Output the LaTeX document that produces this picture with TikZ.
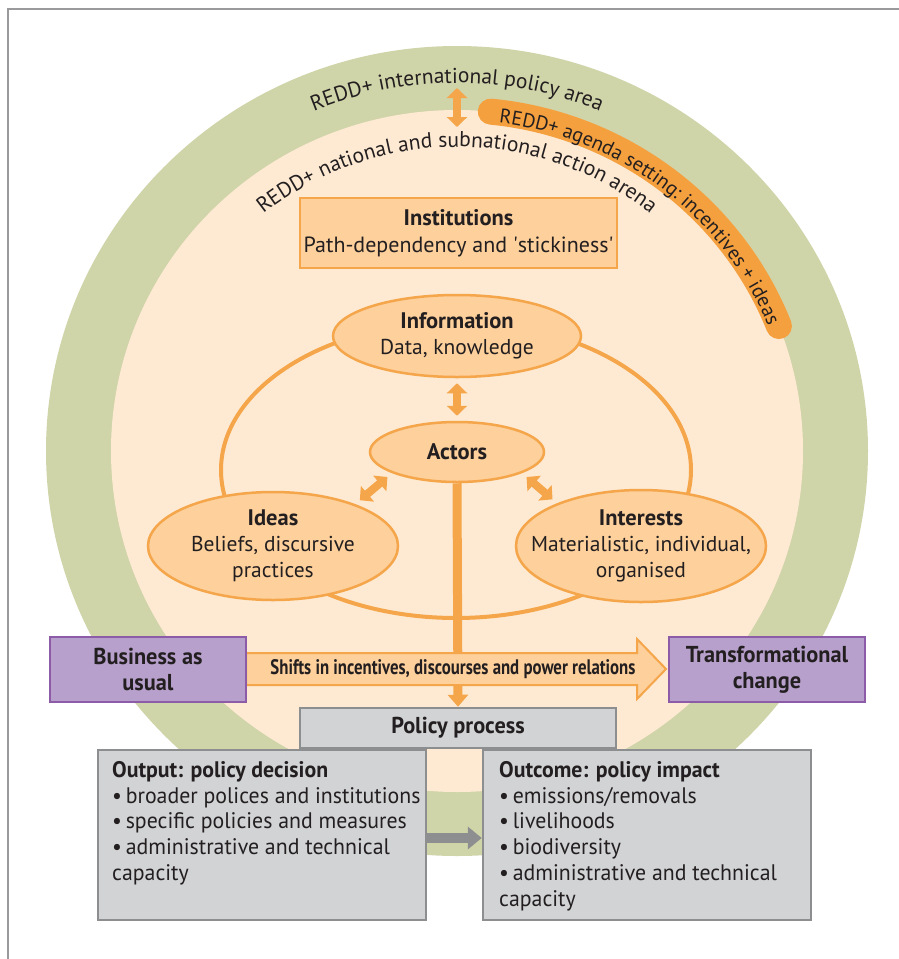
\documentclass[tikz,border=0pt]{standalone}
\usepackage{fontspec}
\setmainfont{PT Sans}
\newfontfamily\condf[FakeStretch=0.97]{PT Sans}
\newfontfamily\narrowf[FakeStretch=0.8]{PT Sans}
\usetikzlibrary{arrows.meta,decorations.text,shapes.geometric}
\definecolor{ring}{HTML}{D0D4A9}
\definecolor{arena}{HTML}{FEEAD3}
\definecolor{ofill}{HTML}{FDD09C}
\definecolor{oline}{HTML}{F5A54A}
\definecolor{oband}{HTML}{F5A03E}
\definecolor{txt}{HTML}{231F20}
\definecolor{pfill}{HTML}{B7A0CC}
\definecolor{pline}{HTML}{8C5CA8}
\definecolor{gfill}{HTML}{D2D3D5}
\definecolor{gline}{HTML}{8D8E90}
\definecolor{framec}{HTML}{9A9A9C}
\newcommand{\ttl}[1]{{\fontsize{22.5}{26}\selectfont\bfseries #1}}
\begin{document}
\begin{tikzpicture}[x=1pt,y=-1pt,
  lbl/.style={text=txt, align=center, inner sep=0pt, font=\fontsize{21.5}{26}\selectfont},
  oval/.style={ellipse, draw=oline, line width=2.5pt, fill=ofill, inner sep=0pt},
  instbox/.style={rectangle, draw=oline, line width=2.5pt, fill=ofill, text=txt, align=center, font=\fontsize{22}{27}\selectfont, minimum width=317pt, minimum height=70pt, inner sep=0pt},
  purplebox/.style={rectangle, draw=pline, line width=2.5pt, fill=pfill, text=txt, align=center, font=\condf\bfseries\fontsize{23}{26}\selectfont, minimum width=196pt, minimum height=65pt, inner sep=0pt},
  graybox/.style={rectangle, draw=gline, line width=2.5pt, fill=gfill, inner sep=0pt},
  boxtext/.style={text=txt, align=left, inner sep=0pt, anchor=north west, font=\condf\fontsize{22.5}{25.8}\selectfont},
  dbl/.style={draw=oline, line width=8pt, {Triangle[length=10pt,width=20pt]}-{Triangle[length=10pt,width=20pt]}},
  curvetext/.style={decorate, decoration={text along path, text align=center, text={#1}}}
]
\useasboundingbox (0,0) rectangle (899,959);
% frame
\draw[framec, line width=2pt] (899,9) -- (8,9) -- (8,959);
% rings
\fill[ring] (457,451) ellipse [x radius=411, y radius=405];
\fill[arena] (457,451) ellipse [x radius=346, y radius=341];
% agenda band
\draw[oband, line width=26pt, line cap=round] (457,451) ++(-84.4:346 and 341) arc[start angle=-84.4, end angle=-21.5, x radius=346, y radius=341];
\path[curvetext={|\fontsize{20}{20}\selectfont\color{txt}|REDD+ agenda setting: incentives + ideas}] (457,451) ++(-92:336 and 331) arc[start angle=-92, end angle=-13, x radius=336, y radius=331];
% curved arena labels
\path[curvetext={|\fontsize{21.5}{21}\selectfont\color{txt}|REDD+ international policy area}] (457,451) ++(-132:373 and 368) arc[start angle=-132, end angle=-48, x radius=373, y radius=368];
\path[curvetext={|\fontsize{21.5}{21}\selectfont\color{txt}|REDD+ national and subnational action arena}] (457,451) ++(-150:309 and 304) arc[start angle=-150, end angle=-30, x radius=309, y radius=304];
% level arrow
\coordinate (intl) at (457,88);
\coordinate (natl) at (457,127);
\draw[dbl] (intl) -- (natl);
% institutions
\node[instbox] (inst) at (458.5,233) {\ttl{Institutions}\\Path-dependency and \textquotesingle stickiness\textquotesingle};
% big loop
\draw[oline, line width=4pt] (456,470) ellipse [x radius=235, y radius=148];
% ovals
\node[oval, minimum width=248pt, minimum height=82pt] (info) at (457,336) {};
\node[oval, minimum width=174pt, minimum height=60pt] (actors) at (457,452) {};
\node[oval, minimum width=250pt, minimum height=108pt] (ideas) at (273,546) {};
\node[oval, minimum width=250pt, minimum height=112pt] (interests) at (641,546) {};
\node[lbl] (infot) at (info) {\ttl{Information}\\Data, knowledge};
\node[lbl] (actorst) at (actors) {\ttl{Actors}};
\node[lbl] (ideast) at (ideas) {\ttl{Ideas}\\Beliefs, discursive\\practices};
\node[lbl] (interestst) at (interests) {\ttl{Interests}\\Materialistic, individual,\\organised};
% arrows between ovals
\draw[dbl, shorten <=5pt, shorten >=5pt] (info.south) -- (actors.north);
\draw[dbl, shorten <=6pt, shorten >=6pt] (actors.198) -- (ideas.27);
\draw[dbl, shorten <=6pt, shorten >=6pt] (actors.-18) -- (interests.153);
% policy process box
\node[graybox, minimum width=316pt, minimum height=40pt, text=txt, font=\condf\bfseries\fontsize{23}{26}\selectfont] (policy) at (458,728) {Policy process};
% trunk
\draw[oline, line width=9pt, -{Triangle[length=12pt,width=20pt]}] (actors.south) -- (policy.north);
% shifts arrow
\draw[oline, line width=2pt, fill=ofill, line join=miter] (246,653) -- (637,653) -- (637,639) -- (666,669) -- (637,699) -- (637,685) -- (246,685) -- cycle;
\node[text=txt, inner sep=0pt, font=\narrowf\bfseries\fontsize{21}{22}\selectfont] (shifts) at (453,669) {Shifts in incentives, discourses and power relations};
% purple boxes
\node[purplebox] (bau) at (148,669.5) {Business as\\usual};
\node[purplebox] (trans) at (767,669.5) {Transformational\\change};
% output / outcome
\node[graybox, minimum width=328pt, minimum height=170pt] (output) at (262,835) {};
\node[graybox, minimum width=328pt, minimum height=170pt] (outcome) at (647,835) {};
\node[boxtext] (outputt) at (112,761) {\textbf{Output: policy decision}\\•\,broader polices and institutions\\•\,specific policies and measures\\•\,administrative and technical\\capacity};
\node[boxtext] (outcomet) at (499,761) {\textbf{Outcome: policy impact}\\•\,emissions/removals\\•\,livelihoods\\•\,biodiversity\\•\,administrative and technical\\capacity};
\draw[gline, line width=10pt, -{Triangle[length=14pt,width=22pt]}] (output.east |- 0,838) -- (outcome.west |- 0,838);
\end{tikzpicture}
\end{document}
